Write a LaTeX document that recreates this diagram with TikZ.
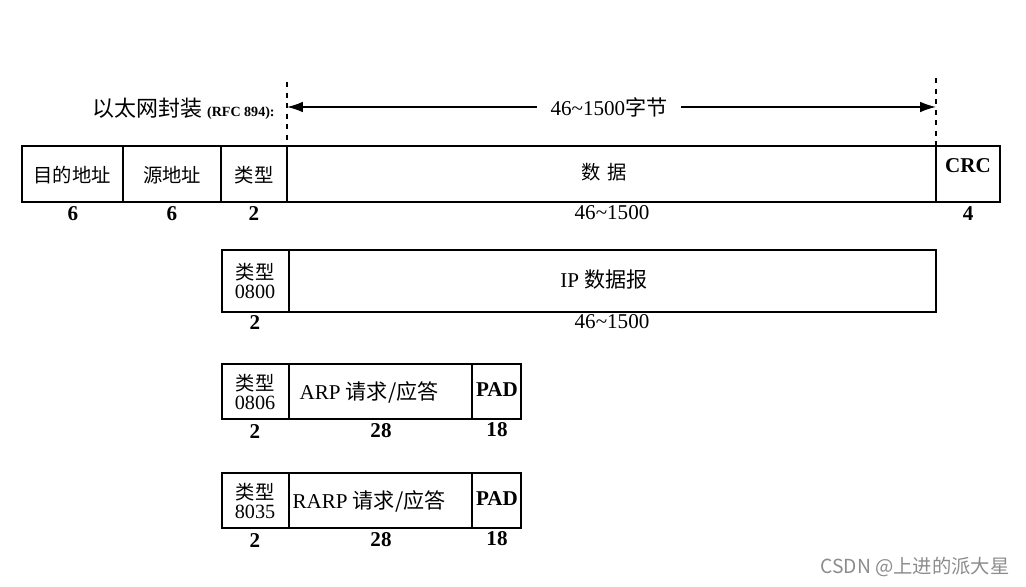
\documentclass[tikz,border=0pt]{standalone}
\usepackage{fontspec}
\setmainfont{Liberation Serif}
\newfontfamily\cjk{Noto Sans CJK SC}
\usetikzlibrary{arrows.meta}
\tikzset{
  fld/.style={line width=0.8pt},
  zh/.style={font=\cjk\fontsize{11}{12}\selectfont},
  typ/.style={font=\fontsize{11.5}{10.5}\selectfont, align=center, inner sep=0pt},
  num/.style={font=\bfseries\fontsize{12}{12}\selectfont},
  len/.style={font=\fontsize{12}{12}\selectfont},
}
\newcommand{\tl}{\textasciitilde}
\begin{document}
\begin{tikzpicture}[x=0.02cm,y=-0.02cm]
\useasboundingbox (0,0) rectangle (1026,587);

% ethernet frame
\draw[fld] (22,146) rectangle (1000,202);
\foreach \x in {123,221,287,936}
  \draw[fld] (\x,146) -- (\x,202);
\node[zh] (dst) at (72,175) {目的地址};
\node[zh] (src) at (172,175) {源地址};
\node[zh] (typ) at (254,175) {类型};
\node[zh] (dat) at (604,172) {数\,\,据};
\node[font=\bfseries\fontsize{12}{12}\selectfont] (crc) at (968,166) {CRC};
\foreach \x/\lab/\nm in {73/6/a,172/6/b,254/2/c,968/4/d}
  \node[num] (n1\nm) at (\x,214) {\lab};
\node[len] (l1) at (612,213) {46\tl1500};

% data length
\coordinate (ls) at (287,82);
\coordinate (lb) at (287,146);
\coordinate (rs) at (936,78);
\coordinate (rb) at (936,146);
\draw[dashed, line width=0.8pt] (ls) -- (lb);
\draw[dashed, line width=0.8pt] (rs) -- (rb);
\coordinate (al) at (287,107);
\coordinate (ar) at (936,107);
\draw[line width=0.8pt, {Latex[length=9pt,width=6pt]}-{Latex[length=9pt,width=6pt]}] (al) -- (ar);
\node[fill=white, inner xsep=8pt, font=\fontsize{12}{12}\selectfont] (bytes) at (609,107) {46\tl1500{\cjk 字节}};
\node[anchor=east, inner sep=0pt] (enc) at (275,109)
  {{\cjk\fontsize{12.5}{13}\selectfont 以太网封装} {\bfseries\fontsize{8}{8}\selectfont (RFC 894):}};

% IP
\draw[fld] (222,250) rectangle (936,312);
\draw[fld] (289,250) -- (289,312);
\node[typ] (t2) at (255,281) {{\cjk\fontsize{11}{10.5}\selectfont 类型}\\0800};
\node[font=\fontsize{12}{12}\selectfont] (ip) at (604,280) {IP {\cjk 数据报}};
\node[num] (n2) at (255,323) {2};
\node[len] (l2) at (612,322) {46\tl1500};

% ARP and RARP
\foreach \y/\tp/\nm/\txt in {364/0806/arp/ARP, 473/8035/rarp/RARP}
{
\draw[fld] (222,\y) rectangle (521,\y+55);
\draw[fld] (289,\y) -- (289,\y+55);
\draw[fld] (472,\y) -- (472,\y+55);
\node[typ] (t\nm) at (255,\y+28) {{\cjk\fontsize{11}{10.5}\selectfont 类型}\\\tp};
\node[font=\fontsize{12}{12}\selectfont] (m\nm) at (369,\y+28) {\txt{} {\cjk 请求/应答}};
\node[font=\bfseries\fontsize{12}{12}\selectfont] (p\nm) at (497,\y+26) {PAD};
\node[num] (a\nm) at (255,\y+68) {2};
\node[num] (b\nm) at (381,\y+67) {28};
\node[num] (c\nm) at (497,\y+66) {18};
}

\node[font=\cjk\fontsize{11}{12}\selectfont, text=black!45] (wm) at (915,567) {CSDN @上进的派大星};
\end{tikzpicture}
\end{document}
